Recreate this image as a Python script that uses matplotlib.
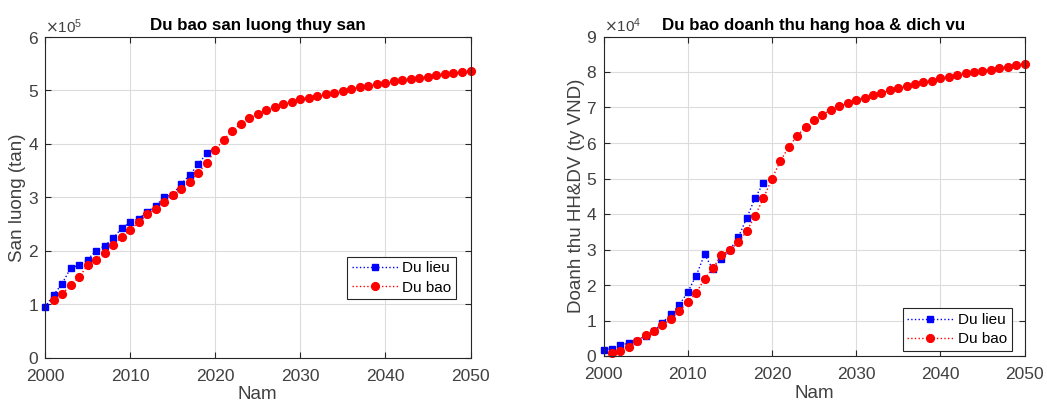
import matplotlib.pyplot as plt
import numpy as np
from matplotlib.ticker import ScalarFormatter

plt.rcParams['font.family'] = ['Liberation Sans', 'DejaVu Sans']

# Years
YEARS_DATA = list(range(2000, 2020))
YEARS_FC = list(range(2001, 2051))

# San luong thuy san (tan)
fish_data = [0.94, 1.17, 1.38, 1.67, 1.73, 1.83, 2.00, 2.09, 2.23, 2.42,
             2.53, 2.60, 2.72, 2.84, 3.00, 3.05, 3.25, 3.41, 3.62, 3.82]
fish_fc = [1.08, 1.19, 1.35, 1.50, 1.73, 1.83, 1.95, 2.11, 2.25, 2.39,
           2.53, 2.68, 2.78, 2.92, 3.05, 3.16, 3.28, 3.46, 3.64, 3.88,
           4.08, 4.24, 4.38, 4.48, 4.56, 4.63, 4.69, 4.74, 4.78, 4.83,
           4.86, 4.90, 4.93, 4.96, 4.99, 5.02, 5.06, 5.09, 5.12, 5.14,
           5.17, 5.19, 5.22, 5.24, 5.26, 5.29, 5.31, 5.32, 5.35, 5.37]

# Doanh thu HH&DV (ty VND)
rev_data = [0.18, 0.21, 0.31, 0.36, 0.43, 0.57, 0.70, 0.94, 1.17, 1.44,
            1.80, 2.26, 2.86, 2.44, 2.73, 2.99, 3.34, 3.88, 4.45, 4.88]
rev_fc = [0.08, 0.15, 0.26, 0.42, 0.59, 0.71, 0.86, 1.05, 1.27, 1.52,
          1.77, 2.18, 2.47, 2.84, 2.99, 3.20, 3.51, 3.95, 4.45, 4.99,
          5.49, 5.89, 6.20, 6.46, 6.64, 6.80, 6.93, 7.03, 7.12, 7.21,
          7.28, 7.35, 7.41, 7.48, 7.55, 7.60, 7.66, 7.72, 7.76, 7.82,
          7.87, 7.91, 7.96, 8.00, 8.04, 8.07, 8.11, 8.15, 8.19, 8.23]

AX_COLOR = '#262626'
TXT_COLOR = '#404040'


def draw_panel(ax, data, fc, scale, ymax, title, ylabel, legend_anchor):
    ax.plot(YEARS_DATA, np.array(data) * scale, ':', color='blue', marker='s',
            markersize=5, linewidth=1, label='Du lieu', clip_on=False)
    ax.plot(YEARS_FC, np.array(fc) * scale, ':', color='red', marker='o',
            markersize=5.6, linewidth=1, label='Du bao', clip_on=False)
    ax.set_xlim(2000, 2050)
    ax.set_ylim(0, ymax * scale)
    ax.set_xticks(range(2000, 2051, 10))
    ax.set_yticks(np.arange(0, ymax + 1) * scale)
    fmt = ScalarFormatter(useMathText=True)
    fmt.set_powerlimits((0, 0))
    ax.yaxis.set_major_formatter(fmt)
    ax.yaxis.get_offset_text().set_fontsize(11)
    ax.yaxis.get_offset_text().set_color('#555555')
    ax.grid(True, color='#dcdcdc', linewidth=0.8)
    ax.set_axisbelow(True)
    ax.tick_params(direction='in', length=4, labelsize=12.5, colors=AX_COLOR,
                   labelcolor=TXT_COLOR, top=True, right=True)
    ax.tick_params(axis='x', pad=8)
    ax.tick_params(axis='y', pad=4.5)
    for s in ax.spines.values():
        s.set_color(AX_COLOR)
        s.set_linewidth(0.8)
    ax.set_title(title, fontsize=12.2, fontweight='bold', pad=5)
    ax.set_xlabel('Nam', fontsize=13.5, color=TXT_COLOR, labelpad=2)
    ax.set_ylabel(ylabel, fontsize=13.5, color=TXT_COLOR, labelpad=1)
    leg = ax.legend(loc='upper left', bbox_to_anchor=legend_anchor, fontsize=11,
                    fancybox=False, edgecolor=AX_COLOR, framealpha=1,
                    handlelength=3.0, handletextpad=0.3, borderpad=0.3,
                    labelspacing=0.35, borderaxespad=0)
    leg.get_frame().set_linewidth(0.8)


fig = plt.figure(figsize=(10.47, 4.03), dpi=100)
ax1 = fig.add_axes([45 / 1047, 1 - 357.5 / 403, 425.5 / 1047, 320.5 / 403])
ax2 = fig.add_axes([603.5 / 1047, 1 - 356 / 403, 421 / 1047, 319.5 / 403])

draw_panel(ax1, fish_data, fish_fc, 1e5, 6, 'Du bao san luong thuy san',
           'San luong (tan)', (0.71, 0.314))
draw_panel(ax2, rev_data, rev_fc, 1e4, 9, 'Du bao doanh thu hang hoa & dich vu',
           'Doanh thu HH&DV (ty VND)', (0.711, 0.149))

plt.savefig('out.png', dpi=100, facecolor='white')
